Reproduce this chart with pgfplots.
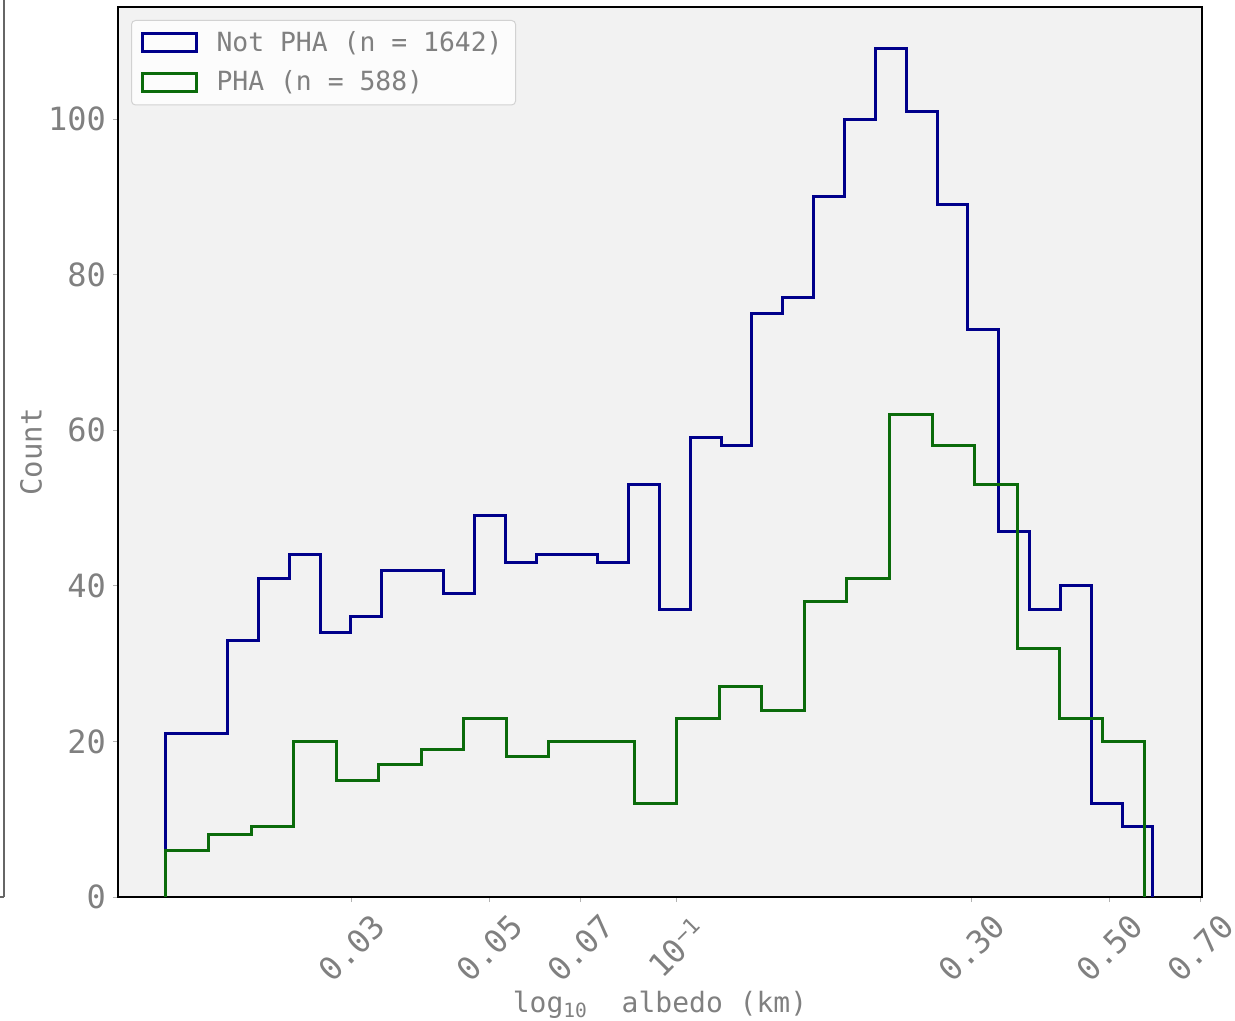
\documentclass[border=0pt]{standalone}
\usepackage{pgfplots}
\pgfplotsset{compat=1.18}
\usepackage{fontspec}
\setmainfont{DejaVu Sans Mono}
\definecolor{bg}{HTML}{F2F2F2}
\definecolor{navyc}{HTML}{00008B}
\definecolor{greenc}{HTML}{0B6B0B}
\definecolor{txt}{HTML}{808080}
\begin{document}
\begin{tikzpicture}
\begin{axis}[
  at={(0,0)}, anchor=south west,
  scale only axis, width=542pt, height=445pt,
  xmin=-1.9003, xmax=-0.1519, ymin=0, ymax=114.4,
  axis background/.style={fill=bg},
  axis line style={black, line width=0.8pt},
  xtick={-1.5229,-1.3010,-1.1549,-1,-0.5229,-0.3010,-0.1549},
  xticklabels={0.03,0.05,0.07,10\raisebox{0.55ex}{\fontsize{11}{11}\selectfont −1},0.30,0.50,0.70},
  ytick={0,20,40,60,80,100},
  yticklabels={0,20,40,60,80,100},
  tick align=outside, tick pos=left,
  major tick length=2.5pt,
  tick style={gray!60, line width=0.5pt},
  xticklabel style={rotate=45, anchor=center, font=\fontsize{16}{16}\selectfont, text=txt},
  xticklabel shift=23pt,
  yticklabel style={font=\fontsize{16}{16}\selectfont, text=txt},
  xlabel={log\textsubscript{10}\ \ albedo (km)},
  xlabel style={font=\fontsize{14}{14}\selectfont, text=txt, at={(axis description cs:0.5,-0.1215)}, anchor=center},
  ylabel={Count},
  ylabel style={font=\fontsize{14.5}{14.5}\selectfont, text=txt, at={(axis description cs:-0.0803,0.5)}, anchor=center, rotate=0},
  legend cell align=left,
  legend style={at={(axis description cs:0.012,0.9854)}, anchor=north west,
    fill=white, fill opacity=0.8, draw opacity=1, text opacity=1,
    draw=gray!35, rounded corners=2pt, line width=0.5pt,
    font=\fontsize{13.2}{13.2}\selectfont, text=txt,
    inner xsep=4.5pt, inner ysep=3.5pt, row sep=4.2pt,
    /tikz/every odd column/.append style={column sep=7.5pt}},
  legend image code/.code={\draw[#1, line width=1.5pt, sharp corners] (0pt,-4.5pt) rectangle (27pt,4.5pt);},
]
\addplot[const plot, navyc, line width=1.5pt, line join=miter] coordinates {
(-1.8230,0) (-1.8230,21) (-1.7733,21) (-1.7235,33) (-1.6738,41) (-1.6240,44) (-1.5743,34) (-1.5245,36) (-1.4748,42) (-1.4250,42) (-1.3753,39) (-1.3255,49) (-1.2758,43) (-1.2260,44) (-1.1763,44) (-1.1265,43) (-1.0768,53) (-1.0270,37) (-0.9773,59) (-0.9275,58) (-0.8778,75) (-0.8280,77) (-0.7783,90) (-0.7285,100) (-0.6788,109) (-0.6290,101) (-0.5793,89) (-0.5295,73) (-0.4798,47) (-0.4300,37) (-0.3803,40) (-0.3305,12) (-0.2808,9) (-0.2310,0)
};
\addlegendentry{Not PHA (n = 1642)}
\addplot[const plot, greenc, line width=1.5pt, line join=miter] coordinates {
(-1.8230,0) (-1.8230,6) (-1.7544,8) (-1.6857,9) (-1.6171,20) (-1.5484,15) (-1.4798,17) (-1.4111,19) (-1.3425,23) (-1.2738,18) (-1.2052,20) (-1.1365,20) (-1.0679,12) (-0.9992,23) (-0.9306,27) (-0.8619,24) (-0.7933,38) (-0.7246,41) (-0.6560,62) (-0.5873,58) (-0.5187,53) (-0.4500,32) (-0.3814,23) (-0.3127,20) (-0.2441,0)
};
\addlegendentry{PHA (n = 588)}
\end{axis}
\draw[gray!80!black, line width=0.9pt] (-57pt,0pt) -- (-57pt,449pt);
\draw[gray!80!black, line width=0.9pt] (-57pt,0pt) -- (-60pt,0pt);
\pgfresetboundingbox
\useasboundingbox (-59pt,-62pt) rectangle (558.5pt,448.5pt);
\end{tikzpicture}
\end{document}
